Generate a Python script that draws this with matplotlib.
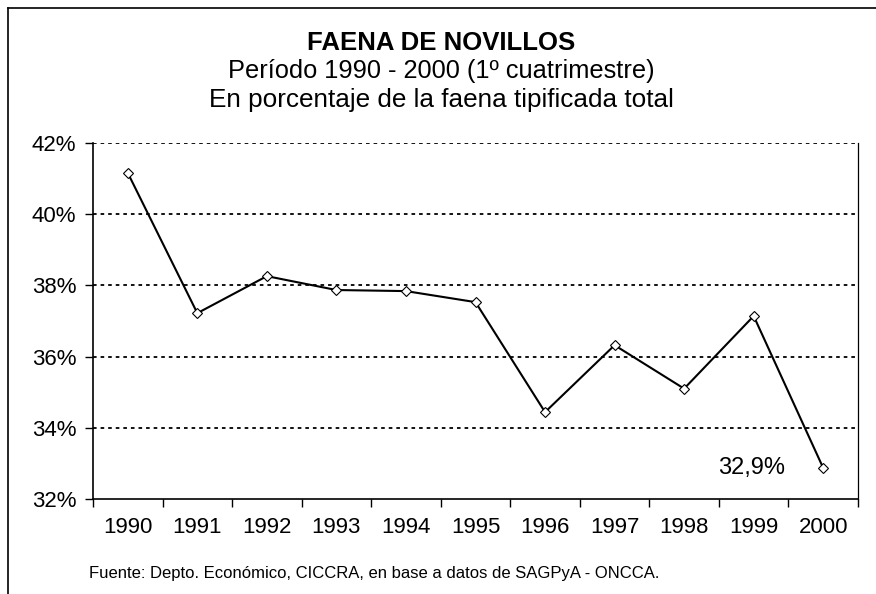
import matplotlib
matplotlib.use("Agg")
import matplotlib.pyplot as plt
from matplotlib.lines import Line2D
import numpy as np

plt.rcParams['font.family'] = ['Liberation Sans', 'DejaVu Sans']

years = ["1990", "1991", "1992", "1993", "1994", "1995", "1996", "1997", "1998", "1999", "2000"]
values = [41.16, 37.22, 38.26, 37.87, 37.84, 37.53, 34.44, 36.32, 35.10, 37.14, 32.87]
yticks = [32, 34, 36, 38, 40, 42]
ytick_labels = ["32%", "34%", "36%", "38%", "40%", "42%"]
last_label = "32,9%"

fig = plt.figure(figsize=(8.76, 5.94), dpi=100)
ax = fig.add_axes([93/876, 1-499/594, (858-93)/876, (499-143)/594])

x = np.arange(len(years))
ax.plot(x, values, color='black', lw=1.5, marker='D', markersize=5.2,
        markerfacecolor='white', markeredgecolor='black', markeredgewidth=0.8, zorder=3)

ax.set_xlim(-0.5, len(years) - 0.5)
ax.set_ylim(32, 42)
ax.set_yticks(yticks)
ax.set_yticklabels(ytick_labels, fontsize=16)
for yv in yticks[1:]:
    ax.axhline(yv, color='black', lw=1.3, linestyle=(0, (2, 2.2)), zorder=1)

ax.set_xticks(x)
ax.set_xticklabels(years, fontsize=16)
ax.tick_params(axis='x', which='major', length=0, pad=13)
ax.set_xticks(np.arange(-0.5, len(years), 1), minor=True)
ax.tick_params(axis='x', which='minor', length=6, width=1, direction='out')
ax.tick_params(axis='y', length=6, width=1, direction='out', pad=6)

ax.spines['top'].set_visible(False)
for s in ['left', 'bottom', 'right']:
    ax.spines[s].set_linewidth(1.2)
ax.spines['right'].set_linewidth(0.9)

ax.annotate(last_label, xy=(x[-1], values[-1]), xytext=(-27.5, 0), textcoords='offset points',
            ha='right', va='center', fontsize=17)

cx = 441/876
fig.text(cx, 1-50/594, "FAENA DE NOVILLOS", ha='center', va='baseline', fontsize=18.5, fontweight='bold')
fig.text(cx, 1-78/594, "Período 1990 - 2000 (1º cuatrimestre)", ha='center', va='baseline', fontsize=18.3)
fig.text(cx, 1-106.5/594, "En porcentaje de la faena tipificada total", ha='center', va='baseline', fontsize=18.8)
fig.text(89/876, 1-578/594, "Fuente: Depto. Económico, CICCRA, en base a datos de SAGPyA - ONCCA.",
         ha='left', va='baseline', fontsize=12)

fig.add_artist(Line2D([8/876, 1.0], [1-8/594, 1-8/594], transform=fig.transFigure, color='black', lw=1.2))
fig.add_artist(Line2D([8/876, 8/876], [0.0, 1-8/594], transform=fig.transFigure, color='black', lw=1.2))

fig.savefig("out.png", dpi=100)
